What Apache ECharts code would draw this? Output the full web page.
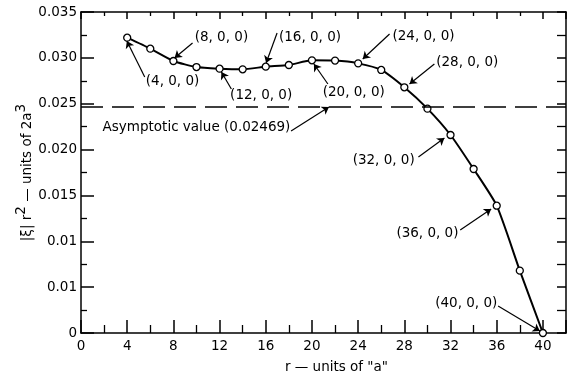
<!DOCTYPE html>
<html>
<head>
<meta charset="utf-8">
<script src="https://cdn.jsdelivr.net/npm/echarts@6/dist/echarts.min.js"></script>
<style>
  html, body { margin: 0; padding: 0; background: #fff; }
  #chart { width: 567px; height: 379px; }
</style>
</head>
<body>
<div id="chart"></div>
<script>
// r in units of "a"
var rValues = [4, 6, 8, 10, 12, 14, 16, 18, 20, 22, 24, 26, 28, 30, 32, 34, 36, 38, 40]
// |xi| r^2 in units of 2a^3
var xiValues = [0.0322, 0.0310, 0.02966, 0.0290, 0.02882, 0.02875, 0.02904, 0.02922, 0.02973, 0.0297,
  0.0294, 0.02868, 0.02679, 0.02446, 0.02159, 0.01788, 0.01388, 0.0068, 0]
var asymptote = 0.02469
var yTickLabels = ['0', '0.01', '0.01', '0.015', '0.020', '0.025', '0.030', '0.035']

// callouts: text, where the text sits, arrow tail and arrow head (data coords)
var annoText = ['(4, 0, 0)', '(8, 0, 0)', '(12, 0, 0)', '(16, 0, 0)', '(20, 0, 0)', '(24, 0, 0)',
  '(28, 0, 0)', 'Asymptotic value (0.02469)', '(32, 0, 0)', '(36, 0, 0)', '(40, 0, 0)']
var annoAt = [[7.93, 0.02737], [12.16, 0.03217], [15.6, 0.02595], [19.83, 0.03217], [23.62, 0.02617],
  [29.66, 0.03228], [33.45, 0.02944], [10.0, 0.02246], [26.21, 0.01886], [30.0, 0.0109], [33.36, 0.00327]]
var arrowFrom = [[5.52, 0.02791], [9.66, 0.03162], [13.02, 0.02661], [16.98, 0.03271], [21.38, 0.02715],
  [26.72, 0.0326], [30.6, 0.02933], [18.19, 0.02203], [29.22, 0.01919], [32.84, 0.01123], [36.12, 0.00294]]
var arrowTo = [[3.97, 0.03184], [8.1, 0.02999], [12.16, 0.02846], [16.03, 0.02944], [20.17, 0.02933],
  [24.4, 0.02988], [28.45, 0.02715], [21.47, 0.02464], [31.47, 0.02126], [35.52, 0.01352], [39.74, 0.00022]]

var font = 'DejaVu Sans'
var ink = '#000'

var chart = echarts.init(document.getElementById('chart'))

var frameX = function (pos, show, major, minor) {
  return {
    type: 'value', position: pos, min: 0, max: 42, interval: 4,
    axisLine: { show: true, onZero: false, lineStyle: { color: ink, width: 1.5 } },
    axisTick: { show: true, inside: true, length: major, lineStyle: { color: ink, width: 1.5 } },
    minorTick: { show: true, splitNumber: 2, length: minor, lineStyle: { color: ink, width: 1.3 } },
    splitLine: { show: false },
    axisLabel: {
      show: show, margin: 6, color: ink, fontFamily: font, fontSize: 13.5,
      formatter: function (v) { return v > 40 ? '' : String(v) }
    }
  }
}
var frameY = function (pos, show, major, minor) {
  return {
    type: 'value', position: pos, min: 0, max: 0.035, interval: 0.005,
    axisLine: { show: true, onZero: false, lineStyle: { color: ink, width: 1.5 } },
    axisTick: { show: true, inside: true, length: major, lineStyle: { color: ink, width: 1.5 } },
    minorTick: { show: true, splitNumber: 2, length: minor, lineStyle: { color: ink, width: 1.3 } },
    splitLine: { show: false },
    axisLabel: {
      show: show, margin: 4, color: ink, fontFamily: font, fontSize: 13.5,
      formatter: function (v) { return yTickLabels[Math.round(v / 0.005)] }
    }
  }
}

var xBottom = frameX('bottom', true, 13, 8)
xBottom.name = 'r \u2014 units of "a"'
xBottom.nameLocation = 'middle'
xBottom.nameGap = 27
xBottom.nameTextStyle = { color: ink, fontFamily: font, fontSize: 13.5, padding: [0, 0, 0, 26] }

var yLeft = frameY('left', true, 13, 6)
yLeft.name = '|\u03be| r{sup|2} \u2014 units of 2a{sup|3}'
yLeft.nameLocation = 'middle'
yLeft.nameGap = 41
yLeft.nameMoveOverlap = false
yLeft.nameTextStyle = {
  color: ink, fontFamily: font, fontSize: 13.5,
  rich: { sup: { fontSize: 13.5, fontFamily: font, color: ink, padding: [0, 0, 12, 0] } }
}

var option = {
  animation: false,
  backgroundColor: '#fff',
  grid: { left: 81, right: 1, top: 12, bottom: 46, outerBoundsMode: 'none' },
  xAxis: [xBottom, frameX('top', false, 7, 4)],
  yAxis: [yLeft, frameY('right', false, 9, 9)],
  series: [
    {
      type: 'line',
      data: rValues.map(function (r, i) { return [r, xiValues[i]] }),
      smooth: 0.2,
      symbol: 'circle',
      symbolSize: 7,
      showAllSymbol: true,
      lineStyle: { color: ink, width: 2 },
      itemStyle: { color: '#fff', borderColor: ink, borderWidth: 1.3 },
      z: 3,
      markLine: {
        silent: true,
        precision: 6,
        symbol: 'none',
        label: { show: false },
        lineStyle: { color: ink, width: 1.5, type: [22, 9], opacity: 1 },
        data: [{ yAxis: asymptote }]
      }
    },
    {
      // callout texts and arrows, on the top/right frame axes (same ranges)
      type: 'scatter',
      xAxisIndex: 1,
      yAxisIndex: 1,
      symbolSize: 0,
      itemStyle: { opacity: 1 },
      data: annoText.map(function (t, i) { return { name: t, value: annoAt[i] } }),
      label: {
        show: true, position: 'inside', color: ink, fontFamily: font, fontSize: 13.5,
        formatter: function (p) { return p.name }
      },
      markLine: {
        silent: true,
        precision: 6,
        symbol: ['none', 'arrow'],
        symbolSize: 7,
        label: { show: false },
        itemStyle: { color: ink, opacity: 1 },
        lineStyle: { color: ink, width: 1.2, type: 'solid', opacity: 1 },
        data: arrowFrom.map(function (a, i) {
          return [{ coord: a }, { coord: arrowTo[i] }]
        })
      },
      z: 4
    }
  ]
}

chart.setOption(option)
</script>
</body>
</html>
